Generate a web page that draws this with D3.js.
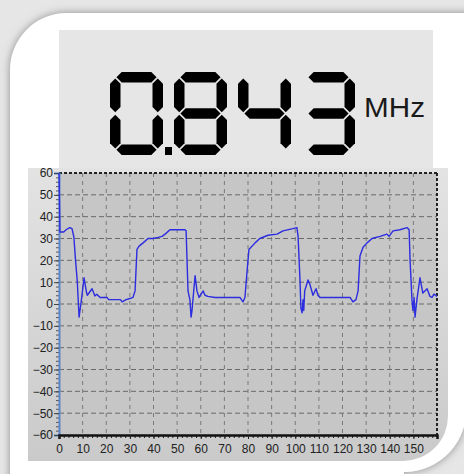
<!DOCTYPE html>
<html>
<head>
<meta charset="utf-8">
<script src="https://cdn.jsdelivr.net/npm/d3@7"></script>
<style>
body { margin: 0; background: #fff; }
svg { display: block; }
</style>
</head>
<body>
<script>
var w = 464;
var h = 474;

// readout
var reading = "0.843";
var unit = "MHz";

// axis ticks
var xTicks = [0, 10, 20, 30, 40, 50, 60, 70, 80, 90, 100, 110, 120, 130, 140, 150];
var yTicks = [60, 50, 40, 30, 20, 10, 0, -10, -20, -30, -40, -50, -60];

// waveform
var tVals = [0, 0.4, 2, 3, 4.5, 5.5, 6.3, 7, 7.7, 8.5, 9.5, 10.6, 11.7, 12, 14, 15.2, 16, 17.4, 20.3, 21, 26, 26.7, 28.4, 30, 31.3, 32.2, 33,
    33.9, 35.6, 37.7, 39.8, 42, 43.6, 44.9, 47, 53.3, 53.8, 54.2, 54.6, 55.4, 55.9, 56.3, 57.6, 58.4, 59.3, 61, 61.8, 63, 66,
    76.6, 77.9, 78.7, 79.6, 80.4, 83, 85, 88.5, 92.3, 94.8, 99, 100.7, 101.2, 102, 102.4, 102.9, 103.3, 103.6, 104, 105.4, 106.2,
    107.5, 108.8, 109.6, 110.5, 123.2, 124.4, 125.7, 126.6, 127.4, 128.7, 130.4, 132.5, 135.9, 138.8, 139.7, 141.4, 144.3, 147.3,
    148.2, 148.6, 149.4, 149.8, 150.3, 150.7, 151.5, 152.8, 154, 155.8, 157, 157.9, 158.7, 160];
var vVals = [60, 33, 33, 34, 35, 34.5, 30.7, 20, 11, -6, 2, 12, 5, 4, 7, 3.7, 4.5, 3, 3, 2, 2, 1, 2, 2.5, 3, 6, 25,
    26.5, 28, 30, 30, 30.5, 31, 32, 34, 34, 33.5, 20, 6, 2, -6, -3, 13, 6, 3, 6, 4, 3.5, 3,
    3, 1, 3, 15, 25, 28, 30, 31.5, 32, 33.5, 34.5, 35, 31, 11, -2, -4, 2, -3, 6, 11, 9,
    4, 7, 4, 3, 3, 1, 2, 6, 22, 26, 28, 30, 31, 32, 31, 33.5, 34, 35,
    34, 20, 2, -3, 3, -6, 2, 12, 5, 7, 3.5, 3, 4.5, 3.5];

var svg = d3.select("body")
    .append("svg")
    .attr("width", w)
    .attr("height", h);

var defs = svg.append("defs");

var shadow = defs.append("filter")
    .attr("id", "shadow")
    .attr("x", "-10%").attr("y", "-10%")
    .attr("width", "120%").attr("height", "120%");
shadow.append("feDropShadow")
    .attr("dx", 0).attr("dy", 0)
    .attr("stdDeviation", 4)
    .attr("flood-color", "#777")
    .attr("flood-opacity", 0.8);

var bgGrad = defs.append("linearGradient")
    .attr("id", "chartbg")
    .attr("x1", 0).attr("y1", 0).attr("x2", 0).attr("y2", 1);
bgGrad.append("stop").attr("offset", "0%").attr("stop-color", "#e3e3e3");
bgGrad.append("stop").attr("offset", "100%").attr("stop-color", "#cacaca");

// backdrop + card
svg.append("rect")
    .attr("width", w).attr("height", h)
    .attr("fill", "#e6e6e6");

svg.append("path")
    .attr("d", "M10,490 L10,70 A57,57 0 0 1 67,13 L490,13 L490,404 L466,404 A62,62 0 0 1 404,472 L400,472 L400,490 Z")
    .attr("fill", "#fff")
    .attr("filter", "url(#shadow)");
svg.append("rect")
    .attr("x", 10).attr("y", 472).attr("width", 394).attr("height", 10)
    .attr("fill", "#fff");

// LCD panel
svg.append("rect")
    .attr("x", 59).attr("y", 30)
    .attr("width", 374).attr("height", 138)
    .attr("fill", "#e6e6e6");

// chart background with the rounded lower right corner
var cbx0 = 28, cby0 = 168, cbx1 = 448, cby1 = 461, cbr = 45;
svg.append("path")
    .attr("d", "M" + cbx0 + "," + cby0 + " L" + cbx1 + "," + cby0 + " L" + cbx1 + "," + (cby1 - cbr) +
        " A" + cbr + "," + cbr + " 0 0 1 " + (cbx1 - cbr) + "," + cby1 + " L" + cbx0 + "," + cby1 + " Z")
    .attr("fill", "url(#chartbg)");

// scales
var x = d3.scaleLinear().domain([0, 160]).range([59, 437]);
var y = d3.scaleLinear().domain([-60, 60]).range([435, 173]);

// plot area
svg.append("rect")
    .attr("x", x(0)).attr("y", y(60))
    .attr("width", x(160) - x(0)).attr("height", y(-60) - y(60))
    .attr("fill", "#c6c6c6");

// grid
var grid = svg.append("g").attr("class", "grid");
grid.selectAll("line.h")
    .data(yTicks.filter(d => d > -60 && d < 60))
    .enter().append("line")
    .attr("x1", x(0)).attr("x2", x(160))
    .attr("y1", d => y(d)).attr("y2", d => y(d))
    .attr("stroke", "#6a6a6a")
    .attr("stroke-width", 1)
    .attr("stroke-dasharray", "5,3");
grid.selectAll("line.v")
    .data(xTicks.filter(d => d > 0))
    .enter().append("line")
    .attr("x1", d => x(d)).attr("x2", d => x(d))
    .attr("y1", y(60)).attr("y2", y(-60))
    .attr("stroke", "#7a7a7a")
    .attr("stroke-width", 1)
    .attr("stroke-dasharray", "4,4");

// top and right borders
svg.append("line")
    .attr("x1", x(0)).attr("x2", x(160))
    .attr("y1", y(60)).attr("y2", y(60))
    .attr("stroke", "#222").attr("stroke-width", 2)
    .attr("stroke-dasharray", "3,2");
svg.append("line")
    .attr("x1", x(160)).attr("x2", x(160))
    .attr("y1", y(60)).attr("y2", y(-60))
    .attr("stroke", "#222").attr("stroke-width", 2)
    .attr("stroke-dasharray", "3,2");

var font = "Arial, 'Liberation Sans', sans-serif";

// y axis
var yMinor = svg.append("g")
    .attr("transform", "translate(" + x(0) + ",0)")
    .call(d3.axisLeft(y).tickValues(d3.range(-60, 61, 2)).tickSize(3).tickFormat(""));
yMinor.select(".domain").remove();
yMinor.selectAll("line").attr("stroke", "#555");

var yAxis = svg.append("g")
    .attr("transform", "translate(" + x(0) + ",0)")
    .call(d3.axisLeft(y).tickValues(yTicks).tickSize(5).tickPadding(1));
yAxis.select(".domain").attr("stroke", "#5b86cc").attr("stroke-width", 2);
yAxis.selectAll("line").attr("stroke", "#444");
yAxis.selectAll("text")
    .attr("font-family", font).attr("font-size", 12).attr("fill", "#222");

// x axis
var xMinor = svg.append("g")
    .attr("transform", "translate(0," + y(-60) + ")")
    .call(d3.axisBottom(x).tickValues(d3.range(0, 161, 2)).tickSize(3).tickFormat(""));
xMinor.select(".domain").remove();
xMinor.selectAll("line").attr("stroke", "#222");

var xAxis = svg.append("g")
    .attr("transform", "translate(0," + y(-60) + ")")
    .call(d3.axisBottom(x).tickValues(xTicks).tickSize(4).tickPadding(5));
xAxis.select(".domain").attr("stroke", "#111").attr("stroke-width", 2.5);
xAxis.selectAll("line").attr("stroke", "#222");
xAxis.selectAll("text")
    .attr("font-family", font).attr("font-size", 12).attr("fill", "#222");

// waveform
var pts = tVals.map((t, i) => [t, vVals[i]]);
var line = d3.line()
    .x(d => x(d[0]))
    .y(d => y(d[1]));
svg.append("path")
    .attr("d", line(pts))
    .attr("fill", "none")
    .attr("stroke", "#2c2ce0")
    .attr("stroke-width", 1.4)
    .attr("stroke-linejoin", "round");

// seven segment readout
var segMap = {
    "0": "abcdef", "1": "bc", "2": "abdeg", "3": "abcdg", "4": "bcfg",
    "5": "acdfg", "6": "acdefg", "7": "abc", "8": "abcdefg", "9": "abcdfg"
};

function digitPolys(x0, y0, dw, dh, t, g) {
    let xl = x0 + t / 2, xr = x0 + dw - t / 2;
    let yt = y0 + t / 2, ym = y0 + dh / 2, yb = y0 + dh - t / 2;
    let hs = (x1, x2, yy) => [[x1, yy], [x1 + t / 2, yy - t / 2], [x2 - t / 2, yy - t / 2], [x2, yy], [x2 - t / 2, yy + t / 2], [x1 + t / 2, yy + t / 2]];
    let vs = (xx, y1, y2) => [[xx, y1], [xx + t / 2, y1 + t / 2], [xx + t / 2, y2 - t / 2], [xx, y2], [xx - t / 2, y2 - t / 2], [xx - t / 2, y1 + t / 2]];
    return {
        a: hs(xl + g, xr - g, yt),
        b: vs(xr, yt + g, ym - g),
        c: vs(xr, ym + g, yb - g),
        d: hs(xl + g, xr - g, yb),
        e: vs(xl, ym + g, yb - g),
        f: vs(xl, yt + g, ym - g),
        g: hs(xl + g, xr - g, ym)
    };
}

var lcd = svg.append("g").attr("class", "lcd");
var digitW = 53, digitH = 83, pitch = 64, lcdX = 110, lcdY = 72;
var k = 0;
reading.split("").forEach(ch => {
    if (ch == ".") {
        let dx = lcdX + (k - 1) * pitch + digitW + 2;
        lcd.append("rect")
            .attr("x", dx).attr("y", lcdY + digitH - 8)
            .attr("width", 7).attr("height", 8)
            .attr("fill", "#000");
        return;
    }
    let polys = digitPolys(lcdX + k * pitch, lcdY, digitW, digitH, 10.5, 1.2);
    segMap[ch].split("").forEach(s => {
        lcd.append("polygon")
            .attr("points", polys[s].map(p => p.join(",")).join(" "))
            .attr("fill", "#000");
    });
    k++;
});

svg.append("text")
    .attr("x", 364).attr("y", 117)
    .attr("font-family", font)
    .attr("font-size", 28)
    .attr("textLength", 61)
    .attr("lengthAdjust", "spacingAndGlyphs")
    .attr("fill", "#1a1a1a")
    .text(unit);
</script>
</body>
</html>
